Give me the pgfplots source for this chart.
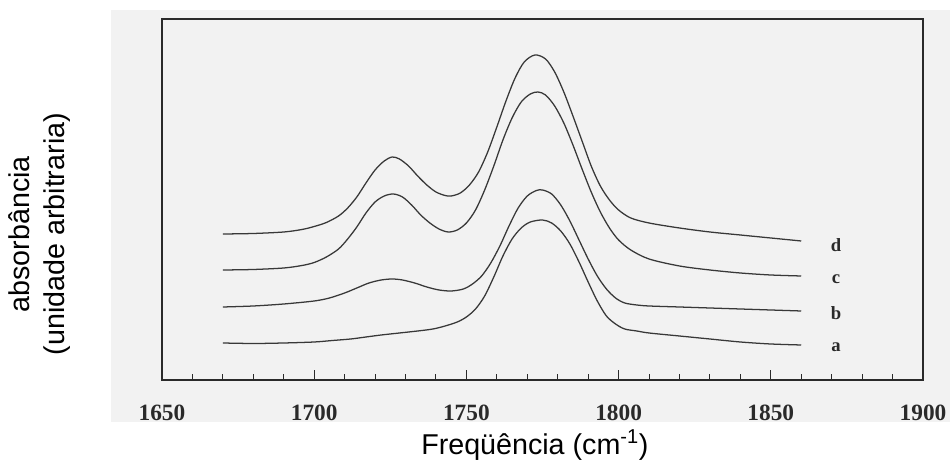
\documentclass[border=0pt]{standalone}
\usepackage{pgfplots}
\pgfplotsset{compat=1.18}
\usepackage{fontspec}
\setmainfont{Liberation Sans}
\newfontfamily\seriffont{Liberation Serif}
\definecolor{bgc}{HTML}{F2F2F2}
\definecolor{ink}{HTML}{2A2A2A}
\definecolor{curve}{HTML}{383838}
\begin{document}
\begin{tikzpicture}
\useasboundingbox (-121.5pt,-69.75pt) rectangle (591pt,285pt);
\fill[bgc] (-38.25pt,-31.5pt) rectangle (591pt,277.5pt);
\begin{axis}[
  scale only axis,
  width=570.75pt, height=270.75pt,
  xmin=1650, xmax=1900, ymin=0, ymax=361,
  xtick={1650,1700,1750,1800,1850,1900},
  minor x tick num=4,
  ytick=\empty,
  xtick pos=left,
  tick align=inside,
  major tick length=7.5pt,
  minor tick length=4.5pt,
  every tick/.style={ink, line width=0.8pt},
  axis line style={ink, line width=1.5pt},
  /pgf/number format/assume math mode=true,
  /pgf/number format/set thousands separator={},
  xticklabel style={font=\seriffont\bfseries\fontsize{17.5}{20}\selectfont, anchor=base, yshift=-30.75pt, text=ink},
  xlabel={Freqüência (cm\textsuperscript{-1})},
  xlabel style={font=\fontsize{21.5}{26}\selectfont, at={(axis description cs:0.49,-0.205)}, anchor=base},
  ylabel={absorbância\\(unidade arbitraria)},
  ylabel style={font=\fontsize{21.5}{26}\selectfont, align=center, at={(axis description cs:-0.161,0.404)}, anchor=center},
  every axis plot post/.style={curve, line width=0.95pt, smooth, tension=0.5, mark=none},
  clip=false,
]
% a
\addplot coordinates {(1670,37)(1680,36.5)(1690,37)(1700,38)(1706,39.5)(1712,41)(1717,43)(1722,45)(1728,47)(1734,49)(1739,51)(1743,54)(1747,58)(1750,63)(1753,71)(1756,84)(1759,103)(1762,124)(1765,141)(1768,152)(1771,158)(1775,160)(1778,157)(1781,149)(1784,136)(1787,118)(1790,98)(1793,79)(1796,64)(1799,56)(1802,51)(1806,49)(1810,47)(1820,44)(1830,41)(1840,38)(1850,36)(1860,35)};
% b
\addplot coordinates {(1670,73)(1680,74)(1690,76)(1700,79)(1705,82)(1710,87)(1714,92)(1718,97)(1722,100)(1725.6,101)(1729,100)(1733,97)(1737,93)(1741,90)(1745,89)(1749,91)(1752,96)(1755,104)(1758,117)(1761,134)(1764,154)(1767,172)(1770,184)(1773,189.5)(1775,190)(1778,186)(1781,175)(1784,159)(1787,140)(1790,121)(1793,104)(1796,91)(1799,82)(1802,77)(1806,75)(1810,74)(1820,73)(1830,72)(1840,71)(1850,70)(1860,69)};
% c
\addplot coordinates {(1670,110)(1680,110.5)(1690,112)(1696,114.5)(1700,117.5)(1704,123)(1708,131)(1711,141)(1714,153)(1717,167)(1720,178)(1723,184)(1726,186)(1729,183)(1732,175)(1735,165)(1738,157)(1741,151)(1744,148)(1747,150)(1750,157)(1753,170)(1756,190)(1759,214)(1762,240)(1765,262)(1768,278)(1771,286)(1773.5,288)(1776,285)(1779,274)(1782,257)(1785,235)(1788,211)(1791,188)(1794,168)(1797,152)(1800,140)(1804,130)(1810,121)(1820,114)(1830,110)(1840,107)(1850,105)(1860,104)};
% d
\addplot coordinates {(1670,146)(1680,146.5)(1690,148)(1696,150.5)(1700,153.5)(1704,157.5)(1708,164)(1711,172)(1714,183)(1717,197)(1720,210)(1723,219)(1725.6,223)(1728,221)(1731,214)(1734,204)(1737,195)(1740,188)(1743,184.5)(1745,184)(1748,187)(1751,195)(1754,208)(1757,228)(1760,253)(1763,279)(1766,302)(1769,318)(1772.5,325)(1776,321)(1779,308)(1782,288)(1785,264)(1788,239)(1791,214)(1794,194)(1797,180)(1800,170)(1804,162)(1810,157)(1820,152)(1830,148)(1840,145)(1850,142)(1860,139)};
\node[font=\seriffont\bfseries\fontsize{14}{16}\selectfont, anchor=base, text=ink] at (axis cs:1871.4,28.5) {a};
\node[font=\seriffont\bfseries\fontsize{14}{16}\selectfont, anchor=base, text=ink] at (axis cs:1871.4,60.5) {b};
\node[font=\seriffont\bfseries\fontsize{14}{16}\selectfont, anchor=base, text=ink] at (axis cs:1871.4,96.5) {c};
\node[font=\seriffont\bfseries\fontsize{14}{16}\selectfont, anchor=base, text=ink] at (axis cs:1871.4,128.5) {d};
\end{axis}
\end{tikzpicture}
\end{document}
